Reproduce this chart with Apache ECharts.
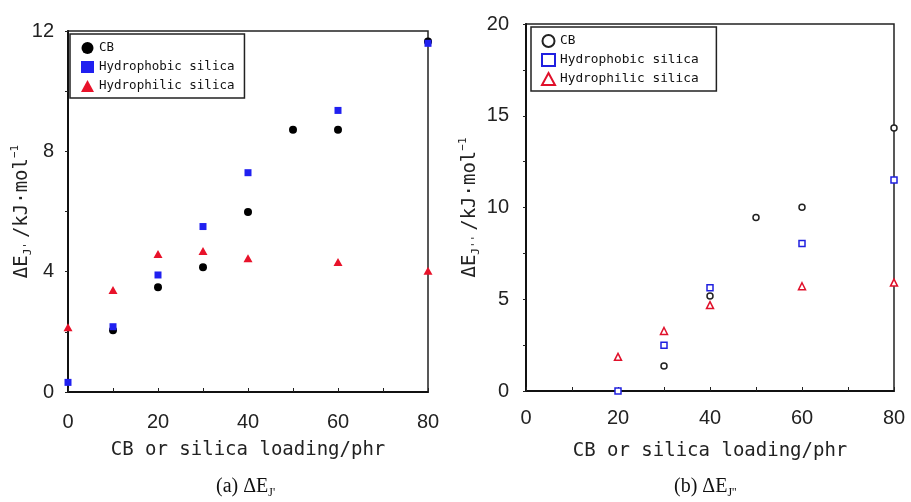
<!DOCTYPE html>
<html><head><meta charset="utf-8">
<script src="https://cdn.jsdelivr.net/npm/echarts@6/dist/echarts.min.js"></script>
<style>html,body{margin:0;padding:0;background:#fff}#c{width:911px;height:502px}</style>
</head><body><div id="c"></div>
<script>
// ---- data (a) ΔE_J'
const seriesNames = ['CB', 'Hydrophobic silica', 'Hydrophilic silica'];
const xCB_a = [10, 20, 30, 40, 50, 60, 80];
const yCB_a = [2.05, 3.48, 4.15, 5.98, 8.72, 8.72, 11.65];
const xPhob_a = [0, 10, 20, 30, 40, 60, 80];
const yPhob_a = [0.32, 2.17, 3.89, 5.5, 7.29, 9.36, 11.59];
const xPhil_a = [0, 10, 20, 30, 40, 60, 80];
const yPhil_a = [2.15, 3.39, 4.59, 4.69, 4.45, 4.32, 4.03];
// ---- data (b) ΔE_J''
const xCB_b = [30, 40, 50, 60, 80];
const yCB_b = [1.36, 5.18, 9.46, 10.02, 14.33];
const xPhob_b = [20, 30, 40, 60, 80];
const yPhob_b = [0, 2.49, 5.62, 8.04, 11.5];
const xPhil_b = [20, 30, 40, 60, 80];
const yPhil_b = [1.86, 3.27, 4.68, 5.71, 5.91];
// ---- ticks
const xTicks = [0, 20, 40, 60, 80];
const yTicks_a = [0, 4, 8, 12];
const yTicks_b = [0, 5, 10, 15, 20];
const xAxisTitle = 'CB or silica loading/phr';
const captionA = ["(a) ", "ΔE", "J'"];
const captionB = ["(b) ", "ΔE", "J''"];

const pair = (xs, ys) => xs.map((x, i) => [x, ys[i]]);
const mono = 'DejaVu Sans Mono';
const narrow = '"Liberation Sans Narrow", "Liberation Sans", Arial, sans-serif';
const BLUE = '#2020f0', RED = '#e8122a', BLACK = '#000';

const chart = echarts.init(document.getElementById('c'), null, {renderer: 'canvas'});

function xAx(grid, gap, labelMargin) {
  return {
    type: 'value', gridIndex: grid, min: 0, max: 80, interval: 10,
    name: xAxisTitle, nameLocation: 'middle', nameGap: gap,
    nameTextStyle: {fontFamily: mono, fontSize: 19, color: '#222'},
    axisLine: {show: true, onZero: false, lineStyle: {color: '#111', width: 2}},
    axisTick: {show: true, inside: true, length: 4, lineStyle: {color: '#222', width: 1}},
    axisLabel: {margin: labelMargin, fontFamily: narrow, fontSize: 20, color: '#222',
      formatter: v => xTicks.includes(v) ? String(v) : ''},
    splitLine: {show: false}
  };
}
function yAx(grid, max, interval, ticks, nameRich, gap, labelMargin, pad) {
  return {
    type: 'value', gridIndex: grid, min: 0, max: max, interval: interval,
    name: nameRich, nameLocation: 'middle', nameGap: gap, nameMoveOverlap: false,
    nameTextStyle: {fontFamily: mono, fontSize: 19, color: '#222',
      rich: {
        a: {fontFamily: mono, fontSize: 19, color: '#222', lineHeight: 24},
        s: {fontFamily: mono, fontSize: 11, color: '#222', verticalAlign: 'bottom', lineHeight: 24, padding: [0, 4, 0, 0]},
        p: {fontFamily: mono, fontSize: 11, color: '#222', verticalAlign: 'top', lineHeight: 24}
      }},
    axisLine: {show: true, onZero: false, lineStyle: {color: '#111', width: 2}},
    axisTick: {show: true, inside: false, length: 3, lineStyle: {color: '#222', width: 1}},
    axisLabel: {margin: labelMargin, fontFamily: narrow, fontSize: 20, color: '#222', padding: pad,
      formatter: v => ticks.includes(v) ? String(v) : ''},
    splitLine: {show: false}
  };
}

const option = {
  animation: false,
  backgroundColor: '#fff',
  grid: [
    {left: 68, top: 31, right: 483, bottom: 110, show: true, borderColor: '#222', borderWidth: 1.5},
    {left: 526, top: 24, right: 17, bottom: 111, show: true, borderColor: '#222', borderWidth: 1.5}
  ],
  xAxis: [xAx(0, 49, 20), xAx(1, 51, 17)],
  yAxis: [
    yAx(0, 12, 2, yTicks_a, "{a|ΔE}{s|J'}{a|/kJ·mol}{p|−1}", 34, 14, [10, 0, 0, 0]),
    yAx(1, 20, 2.5, yTicks_b, "{a|ΔE}{s|J''}{a|/kJ·mol}{p|−1}", 44, 17, 0)
  ],
  legend: [
    {
      data: seriesNames, orient: 'vertical', left: 70, top: 34,
      padding: [7, 10, 5, 11], itemGap: 5, itemWidth: 13, itemHeight: 12,
      borderColor: '#222', borderWidth: 1.5, backgroundColor: '#fff',
      textStyle: {fontFamily: mono, fontSize: 12.5, color: '#111', lineHeight: 14}
    },
    {
      data: seriesNames.map(n => n + ' '), orient: 'vertical', left: 531, top: 27,
      padding: [7, 10, 5, 10], itemGap: 5, itemWidth: 13, itemHeight: 12,
      borderColor: '#222', borderWidth: 1.5, backgroundColor: '#fff',
      textStyle: {fontFamily: mono, fontSize: 12.8, color: '#111', lineHeight: 14}
    }
  ],
  series: [
    {name: seriesNames[0], type: 'scatter', xAxisIndex: 0, yAxisIndex: 0, symbol: 'circle', symbolSize: 8,
      itemStyle: {color: BLACK, opacity: 1}, data: pair(xCB_a, yCB_a), z: 3},
    {name: seriesNames[1], type: 'scatter', xAxisIndex: 0, yAxisIndex: 0, symbol: 'rect', symbolSize: 7,
      itemStyle: {color: BLUE, opacity: 1}, data: pair(xPhob_a, yPhob_a), z: 4},
    {name: seriesNames[2], type: 'scatter', xAxisIndex: 0, yAxisIndex: 0, symbol: 'triangle', symbolSize: [9, 8],
      itemStyle: {color: RED, opacity: 1}, data: pair(xPhil_a, yPhil_a), z: 5},
    {name: seriesNames[0] + ' ', type: 'scatter', xAxisIndex: 1, yAxisIndex: 1, symbol: 'circle', symbolSize: 6,
      itemStyle: {color: '#fff', borderColor: '#222', borderWidth: 1.5, opacity: 1}, data: pair(xCB_b, yCB_b), z: 3},
    {name: seriesNames[1] + ' ', type: 'scatter', xAxisIndex: 1, yAxisIndex: 1, symbol: 'rect', symbolSize: 6,
      itemStyle: {color: '#fff', borderColor: '#2020e0', borderWidth: 1.5, opacity: 1}, data: pair(xPhob_b, yPhob_b), z: 4},
    {name: seriesNames[2] + ' ', type: 'scatter', xAxisIndex: 1, yAxisIndex: 1, symbol: 'triangle', symbolSize: [7, 7],
      itemStyle: {color: '#fff', borderColor: '#e0102a', borderWidth: 1.5, opacity: 1}, data: pair(xPhil_b, yPhil_b), z: 5}
  ],
  graphic: [
    {type: 'text', left: 216, top: 477, style: {
      text: '{r|' + captionA[0] + '}{r|' + captionA[1] + '}{s|' + captionA[2] + '}',
      rich: {r: {fontFamily: 'Liberation Serif', fontSize: 20, fill: '#111', lineHeight: 23},
             s: {fontFamily: 'Liberation Serif', fontSize: 12, fill: '#111', verticalAlign: 'bottom', lineHeight: 23}}}},
    {type: 'text', left: 674, top: 477, style: {
      text: '{r|' + captionB[0] + '}{r|' + captionB[1] + '}{s|' + captionB[2] + '}',
      rich: {r: {fontFamily: 'Liberation Serif', fontSize: 20, fill: '#111', lineHeight: 23},
             s: {fontFamily: 'Liberation Serif', fontSize: 12, fill: '#111', verticalAlign: 'bottom', lineHeight: 23}}}}
  ]
};
chart.setOption(option);
</script></body></html>
